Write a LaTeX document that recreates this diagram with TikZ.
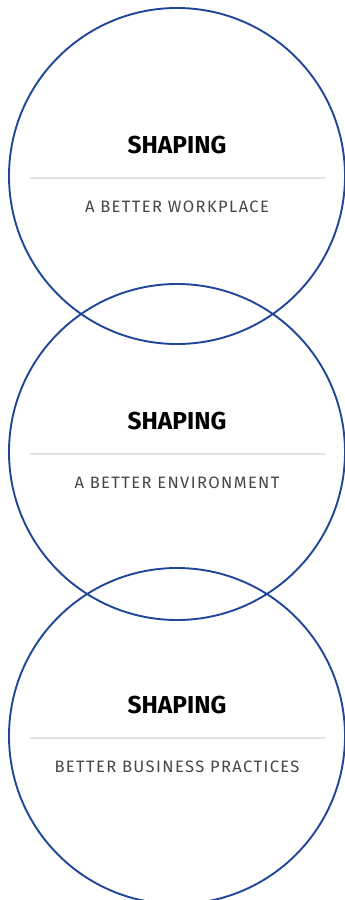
\documentclass[tikz,border=0pt]{standalone}
\usepackage{fontspec}
\setmainfont{Fira Sans}
\usepackage{xcolor}
\usepackage{tikz}
\definecolor{ringblue}{RGB}{31,70,152}
\definecolor{rulegray}{RGB}{224,224,224}
\definecolor{subgray}{RGB}{70,70,70}
\tikzstyle{ring} = [draw=ringblue, line width=1.9pt, circle,
    minimum size=336pt, inner sep=0pt]
\tikzstyle{ringtitle} = [text=black, font=\fontsize{24.5}{25}\selectfont\bfseries, inner sep=0pt]
\tikzstyle{ringsub} = [text=subgray, font=\fontsize{16.5}{17}\selectfont\addfontfeatures{LetterSpace=8.5}, inner sep=0pt]
\tikzstyle{divider} = [draw=rulegray, line width=1.5pt]

\begin{document}
\begin{tikzpicture}[x=1pt, y=-1pt]
\useasboundingbox (0,0) rectangle (345,900);
\foreach \n/\cy/\sub in {1/176/A BETTER WORKPLACE,
                         2/452/A BETTER ENVIRONMENT,
                         3/736/BETTER BUSINESS PRACTICES}{
    \node [ring] (ring\n) at (177,\cy) {};
    \node [ringtitle] (title\n) at ([yshift=30.5pt]ring\n.center) {SHAPING};
    \node [ringsub] (sub\n) at ([yshift=-31pt]ring\n.center) {\sub};
    \coordinate (rl\n) at ([xshift=-147pt,yshift=-2pt]ring\n.center);
    \coordinate (rr\n) at ([xshift=148pt,yshift=-2pt]ring\n.center);
    \draw [divider] (rl\n) -- (rr\n);
}
\end{tikzpicture}
\end{document}
